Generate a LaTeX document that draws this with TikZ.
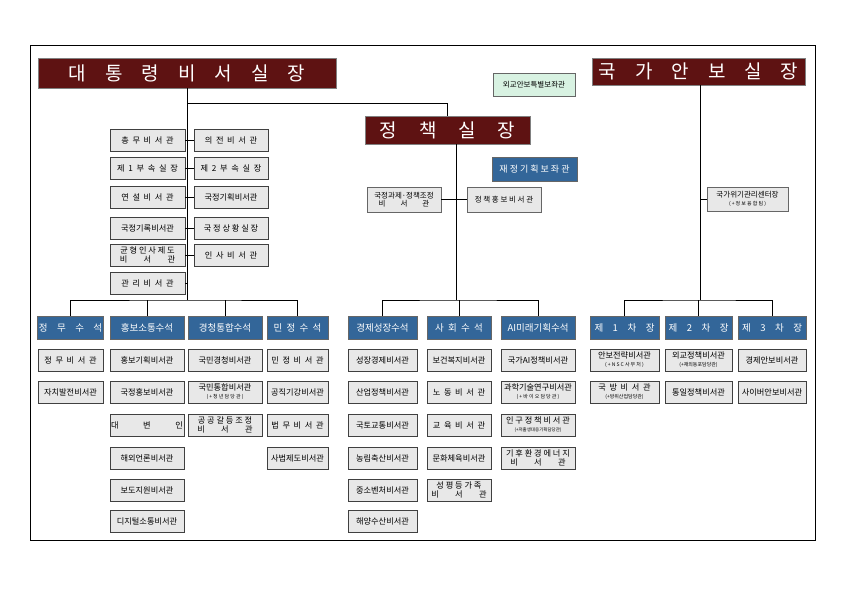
\documentclass[tikz,border=0pt]{standalone}
\usepackage{fontspec}
\newfontfamily\kr{Noto Sans CJK KR}
\definecolor{dred}{HTML}{5E1212}
\definecolor{hblue}{HTML}{336699}
\definecolor{lgreen}{HTML}{D8F2E2}
\begin{document}
\begin{tikzpicture}[x=1pt,y=-1pt,
 gbox/.style={draw=black!75,line width=0.9pt,fill=black!9,minimum height=22pt,inner sep=1pt,align=center,font=\kr\fontsize{8.2}{9}\selectfont},
 tbox/.style={draw=black!60,line width=0.8pt,fill=black!9,minimum height=24pt,inner sep=1pt,align=center,font=\kr\fontsize{7.5}{8.5}\selectfont},
 head/.style={draw=black!60,line width=0.8pt,fill=hblue,text=white,minimum height=23pt,inner sep=1pt,font=\kr\fontsize{9.5}{11}\selectfont},
 title/.style={draw=black!50,line width=0.8pt,fill=dred,text=white,inner sep=1pt,font=\kr\fontsize{19}{22}\selectfont},
 ln/.style={draw=black,line width=0.7pt}]
\useasboundingbox (0,0) rectangle (841,595);
\draw[line width=0.8pt] (30,45) rectangle (815,540);
% titles
\node[title,minimum width=298pt,minimum height=30pt] (pres) at (187,73) {대\quad 통\quad 령\quad 비\quad 서\quad 실\quad 장};
\node[title,minimum width=213pt,minimum height=27pt] (nsa) at (698.5,71.5) {국\quad 가\quad 안\quad 보\quad 실\quad 장};
\node[draw=black!60,fill=lgreen,minimum width=82pt,minimum height=23pt,inner sep=1pt,font=\kr\fontsize{7.5}{8.5}\selectfont] (dipl) at (534,84.5) {외교안보특별보좌관};
\node[title,minimum width=165pt,minimum height=28pt] (pol) at (447.5,130) {정\hspace{22pt}책\hspace{22pt}실\hspace{22pt}장};
\node[head,minimum width=85pt,minimum height=24pt,font=\kr\fontsize{9}{10}\selectfont] (fin) at (534.5,169) {재 정 기 획 보 좌 관};
\node[tbox,minimum width=74pt,minimum height=25pt] (gj) at (404,199.5) {국정과제·정책조정\\비\quad\quad 서\quad\quad 관};
\node[tbox,minimum width=74pt,minimum height=25pt] (ph) at (504,199.5) {정 책 홍 보 비 서 관};
\node[tbox,minimum width=81pt,minimum height=24pt] (crisis) at (747.5,199) {국가위기관리센터장\\[-1pt]{\kr\fontsize{5}{6}\selectfont ( + 정 보 융 합 팀 )}};
% left column
\node[gbox,minimum width=75pt] (l1) at (147.5,140) {총 \ 무 \ 비 \ 서 \ 관};
\node[gbox,minimum width=75pt] (l2) at (147.5,168) {제 \ 1 \ 부 \ 속 \ 실 \ 장};
\node[gbox,minimum width=75pt] (l3) at (147.5,197) {연 \ 설 \ 비 \ 서 \ 관};
\node[gbox,minimum width=75pt] (l4) at (147.5,228) {국정기록비서관};
\node[gbox,minimum width=75pt] (l5) at (147.5,255) {균 형 인 사 제 도\\비\quad\quad 서\quad\quad 관};
\node[gbox,minimum width=75pt] (l6) at (147.5,283) {관 \ 리 \ 비 \ 서 \ 관};
\node[gbox,minimum width=74pt] (r1) at (231,140) {의 \ 전 \ 비 \ 서 \ 관};
\node[gbox,minimum width=74pt] (r2) at (231,168) {제 \ 2 \ 부 \ 속 \ 실 \ 장};
\node[gbox,minimum width=74pt] (r3) at (231,197) {국정기획비서관};
\node[gbox,minimum width=74pt] (r4) at (231,228) {국 정 상 황 실 장};
\node[gbox,minimum width=74pt] (r5) at (231,255) {인 \ 사 \ 비 \ 서 \ 관};
\coordinate (pb) at (187,300);
\draw[ln] (pres.south) -- (pb);
\draw[ln] (187,103) -| (pol.north);
\foreach \i in {1,...,5}{\draw[ln] (l\i.east) -- (r\i.west);}
\draw[ln] (l6.east) -- (187,283);
% policy chief
\coordinate (mb) at (456,300);
\draw[ln] (456,144) -- (mb);
\draw[ln] (gj.east) -- (ph.west);
\coordinate (nb) at (700,300);
\draw[ln] (nsa.south -| nb) -- (nb);
\draw[ln] (crisis.west) -- (700,199);
% heads
\node[head,minimum width=65pt] (h1) at (70.5,328) {정\quad 무\quad 수\quad 석};
\node[head,minimum width=74pt] (h2) at (147,328) {홍보소통수석};
\node[head,minimum width=74pt] (h3) at (225,328) {경청통합수석};
\node[head,minimum width=61pt] (h4) at (297.5,328) {민\ \ 정\ \ 수\ \ 석};
\node[head,minimum width=69pt] (h5) at (382.5,328) {경제성장수석};
\node[head,minimum width=64pt] (h6) at (459,328) {사\ \ 회\ \ 수\ \ 석};
\node[head,minimum width=74pt] (h7) at (538,328) {AI미래기획수석};
\node[head,minimum width=69pt] (h8) at (624.5,328) {제\quad 1\quad 차\quad 장};
\node[head,minimum width=67pt] (h9) at (698.5,328) {제\quad 2\quad 차\quad 장};
\node[head,minimum width=68pt] (h10) at (772,328) {제\quad 3\quad 차\quad 장};
\draw[ln] (h1.north) |- (pb) -| (h4.north);
\draw[ln] (h2.north) -- (h2.north |- pb);
\draw[ln] (h3.north) -- (h3.north |- pb);
\draw[ln] (h5.north) |- (mb) -| (h7.north);
\draw[ln] (h6.north) -- (h6.north |- mb);
\draw[ln] (h8.north) |- (nb) -| (h10.north);
\draw[ln] (h9.north) -- (h9.north |- nb);
% columns
\node[gbox,minimum width=65pt] (a1) at (70.5,360) {정 \ 무 \ 비 \ 서 \ 관};
\node[gbox,minimum width=65pt] (a2) at (70.5,392) {자치발전비서관};
\node[gbox,minimum width=74pt] (b1) at (147,360) {홍보기획비서관};
\node[gbox,minimum width=74pt] (b2) at (147,392) {국정홍보비서관};
\node[gbox,minimum width=74pt] (b3) at (147,425) {대\qquad\quad 변\qquad\quad 인};
\node[gbox,minimum width=74pt] (b4) at (147,458) {해외언론비서관};
\node[gbox,minimum width=74pt] (b5) at (147,490) {보도지원비서관};
\node[gbox,minimum width=74pt] (b6) at (147,521) {디지털소통비서관};
\node[gbox,minimum width=74pt] (c1) at (225,360) {국민경청비서관};
\node[gbox,minimum width=74pt] (c2) at (225,392) {국민통합비서관\\[-1pt]{\kr\fontsize{5}{6}\selectfont ( + 청 년 담 당 관 )}};
\node[gbox,minimum width=74pt] (c3) at (225,425) {공 공 갈 등 조 정\\비\quad\quad 서\quad\quad 관};
\node[gbox,minimum width=61pt] (d1) at (297.5,360) {민 \ 정 \ 비 \ 서 \ 관};
\node[gbox,minimum width=61pt] (d2) at (297.5,392) {공직기강비서관};
\node[gbox,minimum width=61pt] (d3) at (297.5,425) {법 \ 무 \ 비 \ 서 \ 관};
\node[gbox,minimum width=61pt] (d4) at (297.5,458) {사법제도비서관};
\node[gbox,minimum width=69pt] (e1) at (382.5,360) {성장경제비서관};
\node[gbox,minimum width=69pt] (e2) at (382.5,392) {산업정책비서관};
\node[gbox,minimum width=69pt] (e3) at (382.5,425) {국토교통비서관};
\node[gbox,minimum width=69pt] (e4) at (382.5,458) {농림축산비서관};
\node[gbox,minimum width=69pt] (e5) at (382.5,490) {중소벤처비서관};
\node[gbox,minimum width=69pt] (e6) at (382.5,521) {해양수산비서관};
\node[gbox,minimum width=64pt] (f1) at (459,360) {보건복지비서관};
\node[gbox,minimum width=64pt] (f2) at (459,392) {노 \ 동 \ 비 \ 서 \ 관};
\node[gbox,minimum width=64pt] (f3) at (459,425) {교 \ 육 \ 비 \ 서 \ 관};
\node[gbox,minimum width=64pt] (f4) at (459,458) {문화체육비서관};
\node[gbox,minimum width=64pt] (f5) at (459,490) {성 평 등 가 족\\비\quad\quad 서\quad\quad 관};
\node[gbox,minimum width=74pt] (g1) at (538,360) {국가AI정책비서관};
\node[gbox,minimum width=74pt] (g2) at (538,392) {과학기술연구비서관\\[-1pt]{\kr\fontsize{5}{6}\selectfont ( + 바 이 오 담 당 관 )}};
\node[gbox,minimum width=74pt] (g3) at (538,425) {인 구 정 책 비 서 관\\[-1pt]{\kr\fontsize{4.5}{5.5}\selectfont (+저출생대응기획담당관)}};
\node[gbox,minimum width=74pt] (g4) at (538,458) {기 후 환 경 에 너 지\\비\quad\quad 서\quad\quad 관};
\node[gbox,minimum width=69pt] (i1) at (624.5,360) {안보전략비서관\\[-1pt]{\kr\fontsize{5}{6}\selectfont ( + N S C 사 무 처 )}};
\node[gbox,minimum width=69pt] (i2) at (624.5,392) {국 \ 방 \ 비 \ 서 \ 관\\[-1pt]{\kr\fontsize{5}{6}\selectfont (+방위산업담당관)}};
\node[gbox,minimum width=67pt] (j1) at (698.5,360) {외교정책비서관\\[-1pt]{\kr\fontsize{5}{6}\selectfont (+재외동포담당관)}};
\node[gbox,minimum width=67pt] (j2) at (698.5,392) {통일정책비서관};
\node[gbox,minimum width=68pt] (k1) at (772,360) {경제안보비서관};
\node[gbox,minimum width=68pt] (k2) at (772,392) {사이버안보비서관};
\end{tikzpicture}
\end{document}
